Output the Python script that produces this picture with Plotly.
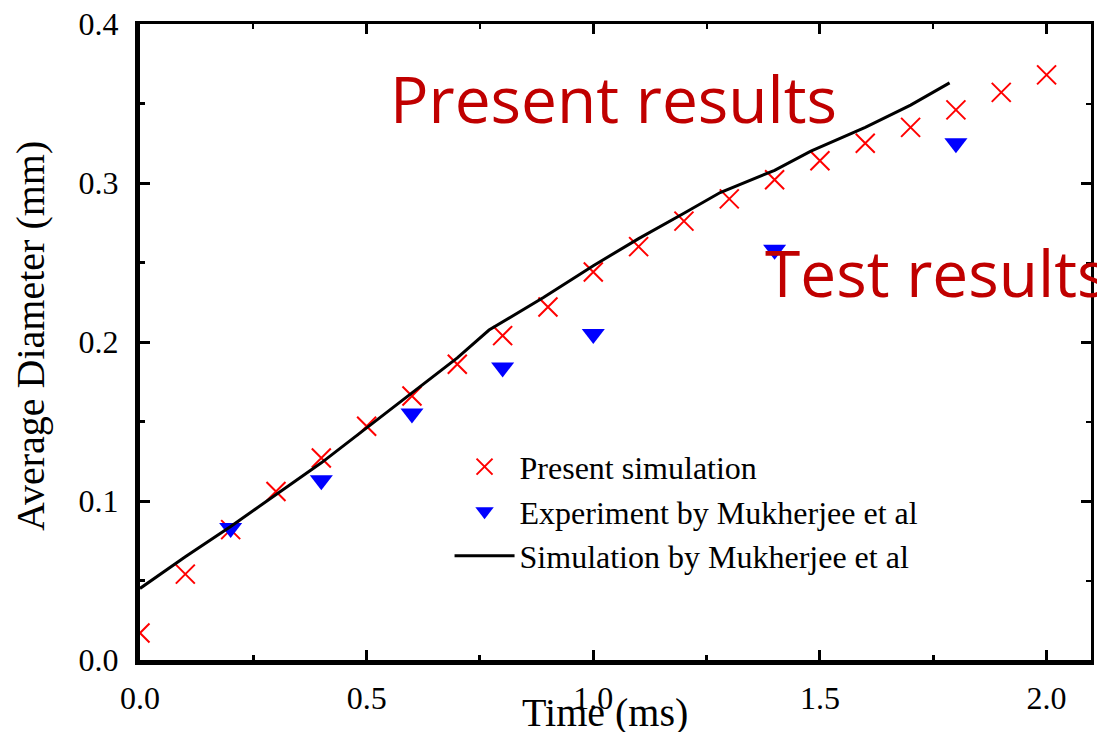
import plotly.graph_objects as go

# ---- data ----
sim_time = [0.0, 0.1, 0.2, 0.3, 0.4, 0.5, 0.6, 0.7, 0.8, 0.9, 1.0,
            1.1, 1.2, 1.3, 1.4, 1.5, 1.6, 1.7, 1.8, 1.9, 2.0]
sim_diam = [0.017, 0.054, 0.082, 0.106, 0.127, 0.147, 0.166, 0.186, 0.204, 0.222, 0.244,
            0.260, 0.276, 0.290, 0.302, 0.314, 0.325, 0.335, 0.346, 0.357, 0.368]

exp_time = [0.2, 0.4, 0.6, 0.8, 1.0, 1.4, 1.8]
exp_diam = [0.083, 0.113, 0.155, 0.184, 0.205, 0.258, 0.325]

ref_time = [0.0, 0.1, 0.2, 0.3, 0.4, 0.5, 0.6, 0.7, 0.77, 0.89, 1.0,
            1.1, 1.2, 1.28, 1.4, 1.48, 1.6, 1.7, 1.786]
ref_diam = [0.045, 0.065, 0.084, 0.104, 0.124, 0.146, 0.168, 0.190, 0.2075, 0.228, 0.248,
            0.265, 0.281, 0.294, 0.308, 0.320, 0.335, 0.349, 0.363]

x_ticks = [0.0, 0.5, 1.0, 1.5, 2.0]
y_ticks = [0.0, 0.1, 0.2, 0.3, 0.4]
x_range = [0, 2.098]
y_range = [0, 0.4]

SERIF = "Liberation Serif"

fig = go.Figure()
fig.add_trace(go.Scatter(
    x=sim_time, y=sim_diam, mode="markers", name="Present simulation",
    marker=dict(symbol="x-thin", size=19, color="#FF0000",
                line=dict(color="#FF0000", width=2)),
))
fig.add_trace(go.Scatter(
    x=exp_time, y=exp_diam, mode="markers", name="Experiment by Mukherjee et al",
    marker=dict(symbol="triangle-down", size=20, color="#0000FF"),
))
fig.add_trace(go.Scatter(
    x=ref_time, y=ref_diam, mode="lines", name="Simulation by Mukherjee et al",
    line=dict(color="black", width=3),
))
# invisible carrier so the mirrored (top/right) axes are drawn
fig.add_trace(go.Scatter(
    x=sim_time, y=sim_diam, xaxis="x2", yaxis="y2", mode="markers",
    marker=dict(opacity=0), showlegend=False, hoverinfo="skip",
))

axis_common = dict(
    ticks="inside", ticklen=10, tickwidth=3, tickcolor="black",
    showgrid=False, zeroline=False, automargin=False,
    tickfont=dict(family=SERIF, size=32, color="black"),
    tickformat=".1f", ticklabeloverflow="allow",
)

fig.update_layout(
    width=1097, height=724,
    margin=dict(l=132, r=14, t=16, b=72),
    paper_bgcolor="white", plot_bgcolor="white",
    showlegend=True,
    legend=dict(
        x=0.3255, y=0.347, xanchor="left", yanchor="top",
        font=dict(family=SERIF, size=32, color="black"),
        bgcolor="rgba(0,0,0,0)", itemwidth=60, tracegroupgap=0,
    ),
    xaxis=dict(
        range=x_range, tickvals=x_ticks,
        showline=True, linewidth=5, linecolor="black",
        minor=dict(dtick=0.25, ticks="inside", ticklen=5, tickwidth=3, tickcolor="black"),
        ticklabelstandoff=6,
        **axis_common,
    ),
    yaxis=dict(
        range=y_range, tickvals=y_ticks,
        showline=True, linewidth=5, linecolor="black",
        minor=dict(dtick=0.05, ticks="inside", ticklen=5, tickwidth=3, tickcolor="black"),
        ticklabelstandoff=10,
        **axis_common,
    ),
    xaxis2=dict(
        overlaying="x", side="top", range=x_range, tickvals=x_ticks,
        showline=True, linewidth=3, linecolor="black", automargin=False,
        ticks="inside", ticklen=10, tickwidth=3, tickcolor="black",
        minor=dict(dtick=0.25, ticks="inside", ticklen=5, tickwidth=2, tickcolor="black"),
        showticklabels=False, showgrid=False, zeroline=False,
    ),
    yaxis2=dict(
        overlaying="y", side="right", range=y_range, tickvals=y_ticks,
        showline=True, linewidth=3, linecolor="black", automargin=False,
        ticks="inside", ticklen=10, tickwidth=3, tickcolor="black",
        minor=dict(dtick=0.05, ticks="inside", ticklen=5, tickwidth=2, tickcolor="black"),
        showticklabels=False, showgrid=False, zeroline=False,
    ),
)

# axis titles
fig.add_annotation(
    text="Time (ms)", xref="paper", yref="paper", x=0.489, y=-0.082,
    xanchor="center", yanchor="middle", showarrow=False,
    font=dict(family=SERIF, size=40, color="black"),
)
fig.add_annotation(
    text="Average Diameter (mm)", xref="paper", yref="paper", x=-0.115, y=0.509,
    xanchor="center", yanchor="middle", showarrow=False, textangle=-90,
    font=dict(family=SERIF, size=40, color="black"),
)

# red callouts
fig.add_annotation(
    text="Present results", xref="x", yref="y", x=0.547, y=0.353,
    xanchor="left", yanchor="middle", showarrow=False,
    font=dict(family="Open Sans", size=64, color="#C00000"),
)
fig.add_annotation(
    text="Test results", xref="x", yref="y", x=1.375, y=0.244,
    xanchor="left", yanchor="middle", showarrow=False,
    font=dict(family="Open Sans", size=64, color="#C00000"),
)

fig.write_html("out.html")
